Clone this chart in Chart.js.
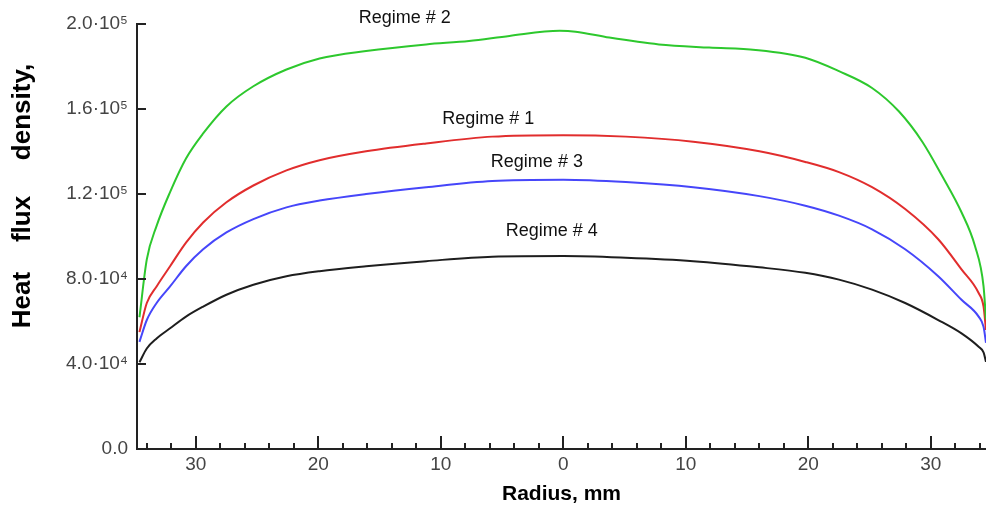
<!DOCTYPE html>
<html lang="en">
<head>
    <meta charset="UTF-8">
    <title>Heat flux density</title>
    <script src="https://cdn.jsdelivr.net/npm/chart.js"></script>
    <style>
        body { margin: 0; background: #fff; overflow: hidden; }
    </style>
</head>
<body>
    <canvas id="flux-chart" width="986" height="508"></canvas>

    <script>
        // radius, mm (left half shown as negative)
        const radius = [-34.6, -34.0, -33.2, -32.1, -30.8, -29.4, -27.5, -25.3, -22.6, -19.9, -16.1, -11.2, -5.8, 0,
                        5.1, 10.6, 16.0, 19.75, 22.5, 25.2, 27.9, 30.6, 32.5, 33.9, 34.3, 34.5];
        const regime1 = [55000, 68700, 76500, 86000, 97100, 106600, 116100, 124000, 131100, 135900, 140100, 143800, 147000, 147700,
                         147000, 144600, 140100, 135100, 130300, 123200, 112900, 98700, 84500, 73400, 67000, 56000];
        const regime3 = [50400, 60700, 68700, 76500, 86000, 94000, 101900, 108200, 113700, 116900, 120000, 123200, 126100, 126700,
                         125600, 123200, 119000, 114500, 109800, 103400, 94000, 81300, 70200, 62300, 57500, 50000];
        const regime4 = [40800, 47300, 52000, 56800, 62300, 67000, 72600, 77300, 81300, 83700, 86000, 88400, 90500, 90800,
                         90000, 88400, 85500, 82900, 79700, 75000, 68700, 60700, 54400, 48100, 45500, 41000];

        const radius2 = [-34.6, -34.0, -33.2, -32.1, -30.8, -29.4, -27.5, -25.3, -22.6, -19.9, -16.1, -11.2, -7.7, -4.4, -0.3, 1.0,
                         3.75, 7.8, 11.9, 15.7, 19.75, 22.5, 25.2, 27.4, 29.3, 30.9, 32.5, 33.6, 34.3, 34.5];
        const regime2 = [62000, 89200, 105000, 120900, 136700, 148500, 161200, 170700, 178600, 183800, 187300, 190400, 192000, 194400, 196800, 196400,
                         193600, 190400, 188900, 187800, 184100, 177800, 169900, 158800, 144600, 128700, 111400, 95500, 76500, 61000];

        const xTicks = [-30, -20, -10, 0, 10, 20, 30];
        const yTicks = [0, 40000, 80000, 120000, 160000, 200000];
        const yTickLabels = ['0.0', '4.0·10⁴', '8.0·10⁴', '1.2·10⁵', '1.6·10⁵', '2.0·10⁵'];

        const regimeNames = ['Regime # 2', 'Regime # 1', 'Regime # 3', 'Regime # 4'];
        const regimeLabelX = [-12.94, -6.12, -2.16, -0.94];
        const regimeLabelY = [202800, 155200, 134900, 102800];

        const yTitleWords = ['Heat', 'flux', 'density,'];
        const yTitleCenters = [300, 219, 112];

        function points(xs, ys) {
            return xs.map((x, i) => ({ x: x, y: ys[i] }));
        }

        const FONT = '"Liberation Sans", Arial, sans-serif';
        Chart.defaults.font.family = FONT;

        // inward ticks, curve labels and the spread y-axis title
        const decorations = {
            id: 'decorations',
            afterDraw(chart) {
                const ctx = chart.ctx;
                const xs = chart.scales.x, ys = chart.scales.y;
                const area = chart.chartArea;
                ctx.save();
                ctx.strokeStyle = '#222';
                ctx.lineWidth = 2;
                ctx.beginPath();
                for (let v = -34; v <= 34; v += 2) {
                    const px = Math.round(xs.getPixelForValue(v));
                    const len = v % 10 === 0 ? 13 : 6;
                    ctx.moveTo(px, area.bottom);
                    ctx.lineTo(px, area.bottom - len);
                }
                yTicks.forEach(v => {
                    if (v === 0) return;
                    const py = Math.round(ys.getPixelForValue(v));
                    ctx.moveTo(area.left, py);
                    ctx.lineTo(area.left + 9, py);
                });
                ctx.stroke();

                ctx.fillStyle = '#111';
                ctx.font = '18px ' + FONT;
                ctx.textAlign = 'center';
                ctx.textBaseline = 'middle';
                regimeNames.forEach((t, i) => {
                    ctx.fillText(t, xs.getPixelForValue(regimeLabelX[i]), ys.getPixelForValue(regimeLabelY[i]));
                });

                ctx.font = 'bold 26px ' + FONT;
                ctx.fillStyle = '#000';
                yTitleWords.forEach((w, i) => {
                    ctx.save();
                    ctx.translate(23, yTitleCenters[i]);
                    ctx.rotate(-Math.PI / 2);
                    ctx.fillText(w, 0, 0);
                    ctx.restore();
                });
                ctx.restore();
            }
        };

        const lineStyle = { borderWidth: 2, pointRadius: 0, fill: false, cubicInterpolationMode: 'monotone' };

        new Chart(document.getElementById('flux-chart'), {
            type: 'line',
            data: {
                datasets: [
                    Object.assign({ label: 'Regime # 2', data: points(radius2, regime2), borderColor: 'rgb(45, 200, 45)' }, lineStyle),
                    Object.assign({ label: 'Regime # 1', data: points(radius, regime1), borderColor: 'rgb(225, 45, 45)' }, lineStyle),
                    Object.assign({ label: 'Regime # 3', data: points(radius, regime3), borderColor: 'rgb(70, 70, 250)' }, lineStyle),
                    Object.assign({ label: 'Regime # 4', data: points(radius, regime4), borderColor: 'rgb(30, 30, 30)' }, lineStyle)
                ]
            },
            options: {
                responsive: false,
                animation: false,
                devicePixelRatio: 1,
                layout: { padding: { top: 24, right: 0, bottom: 0, left: 0 } },
                plugins: { legend: { display: false }, tooltip: { enabled: false } },
                scales: {
                    x: {
                        type: 'linear',
                        min: -34.8,
                        max: 34.5,
                        grid: { display: false, drawTicks: false },
                        border: { display: true, color: '#222', width: 2 },
                        afterBuildTicks: s => { s.ticks = xTicks.map(v => ({ value: v })); },
                        afterFit: s => { s.height = 59; },
                        ticks: {
                            padding: 4,
                            color: '#444',
                            font: { size: 19 },
                            maxRotation: 0,
                            callback: v => String(Math.abs(v))
                        },
                        title: {
                            display: true,
                            text: 'Radius, mm',
                            color: '#000',
                            font: { size: 21, weight: 'bold' },
                            padding: { top: 0, bottom: 1 }
                        }
                    },
                    y: {
                        min: 0,
                        max: 200000,
                        grid: { display: false, drawTicks: false },
                        border: { display: true, color: '#222', width: 2 },
                        afterBuildTicks: s => { s.ticks = yTicks.map(v => ({ value: v })); },
                        afterFit: s => { s.width = 137; },
                        ticks: {
                            padding: 9,
                            color: '#444',
                            font: { size: 19 },
                            callback: (v, i) => yTickLabels[i]
                        }
                    }
                }
            },
            plugins: [decorations]
        });
    </script>
</body>
</html>
